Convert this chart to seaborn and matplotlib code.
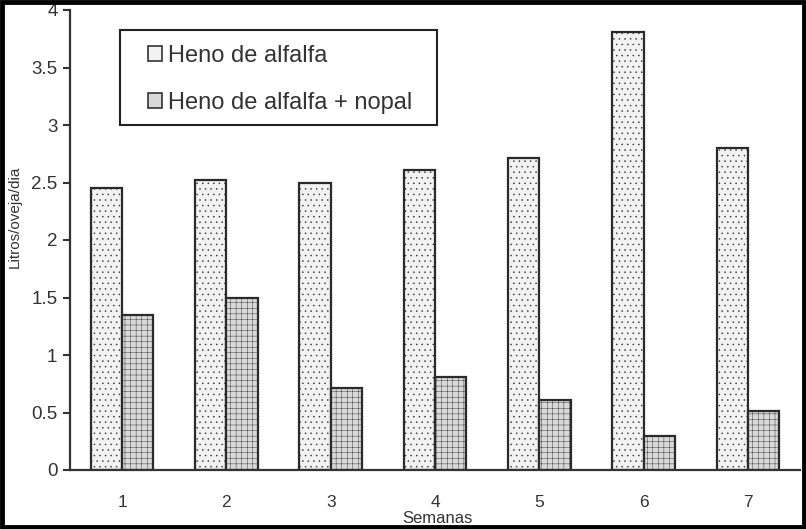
import numpy as np
import pandas as pd
import matplotlib
matplotlib.use("Agg")
import matplotlib.pyplot as plt
from matplotlib.patches import Rectangle, Patch
import seaborn as sns

semanas = ["1", "2", "3", "4", "5", "6", "7"]
alfalfa = [2.45, 2.52, 2.50, 2.61, 2.71, 3.81, 2.80]
alfalfa_nopal = [1.35, 1.50, 0.71, 0.81, 0.61, 0.30, 0.51]
series = ["Heno de alfalfa", "Heno de alfalfa + nopal"]
colores = ["#f2f2f2", "#d9d9d9"]
yticks = [0, 0.5, 1, 1.5, 2, 2.5, 3, 3.5, 4]

df = pd.DataFrame({
    "Semanas": semanas * 2,
    "valor": alfalfa + alfalfa_nopal,
    "serie": [series[0]] * 7 + [series[1]] * 7,
})

sns.set_theme(style="white")
plt.rcParams["font.family"] = ["Liberation Sans", "DejaVu Sans"]
plt.rcParams["hatch.linewidth"] = 0.3
plt.rcParams["hatch.color"] = "#cacaca"

fig = plt.figure(figsize=(8.06, 5.29), dpi=100)
ax = fig.add_axes([70 / 806, 1 - 470 / 529, 730 / 806, 460 / 529])

sns.barplot(data=df, x="Semanas", y="valor", hue="serie", palette=colores,
            width=0.6, edgecolor="#2a2a2a", linewidth=1.6, ax=ax, legend=False)

# faint texture on bars, like the scanned original
for i, bar in enumerate(ax.patches):
    bar.set_hatch("..." if i < 7 else "+++")

ax.set_xlim(-0.5, 6.5)
ax.set_ylim(0, 4)
ax.set_yticks(yticks, labels=[f"{v:g}" for v in yticks])
ax.set_xticks(np.arange(7), labels=semanas)
ax.set_xticks(np.arange(8) - 0.5, minor=True)
ax.tick_params(axis="x", which="major", length=0, pad=18, labelsize=12.5, colors="#333333")
ax.tick_params(axis="x", which="minor", length=5, width=1.5, direction="out", color="#333333")
ax.tick_params(axis="y", length=5, width=1.5, direction="out", left=True, pad=4,
               labelsize=13.5, colors="#333333")

for s in ["top", "right"]:
    ax.spines[s].set_visible(False)
for s in ["left", "bottom"]:
    ax.spines[s].set_color("#333333")
    ax.spines[s].set_linewidth(1.6)

ax.set_ylabel("Litros/oveja/dia", fontsize=11, color="#333333")
ax.yaxis.set_label_coords(-0.066, 0.55)
ax.set_xlabel("Semanas", fontsize=12, color="#333333")
ax.xaxis.set_label_coords(0.503, -0.09)

# legend entries without frame; the box is drawn separately (wider padding)
handles = [Patch(facecolor=c, edgecolor="#333333", linewidth=1.2) for c in colores]
leg = ax.legend(handles, series, loc="upper left",
                bbox_to_anchor=((148 - 70) / 730, (470 - 45) / 460),
                fontsize=17, frameon=False, handlelength=0.6,
                handleheight=0.6, handletextpad=0.25, labelspacing=1.05,
                borderpad=0, borderaxespad=0)
for t in leg.get_texts():
    t.set_color("#333333")
ax.add_patch(Rectangle(((120 - 70) / 730, (470 - 125) / 460), 317 / 730, 95 / 460,
                       transform=ax.transAxes, fill=True, facecolor="white",
                       edgecolor="#222222", linewidth=1.5, zorder=4))
leg.set_zorder(5)

# outer frame
fig.patches.append(Rectangle((0.002, 0.003), 0.996, 0.994, transform=fig.transFigure,
                             fill=False, edgecolor="black", linewidth=3.5))

fig.savefig("out.png", dpi=100)
